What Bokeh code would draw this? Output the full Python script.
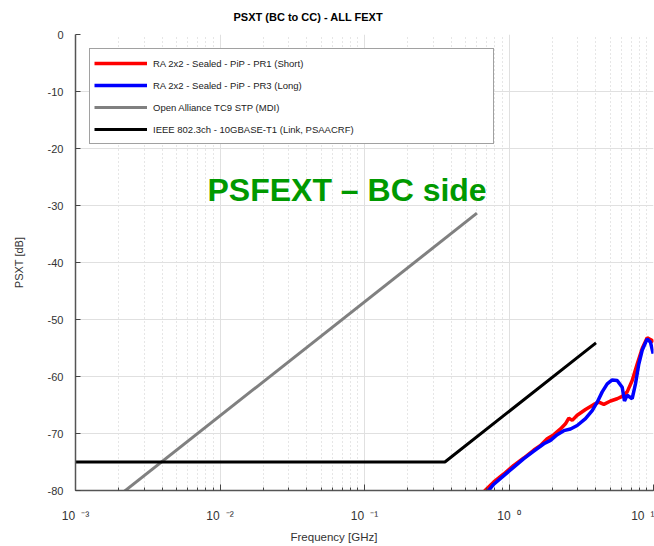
from bokeh.plotting import figure
from bokeh.models import (Range1d, Legend, LegendItem, Label, Title,
                          CustomJSTickFormatter)
from bokeh.embed import file_html
from bokeh.resources import INLINE

FONT = "Liberation Sans"

# ---- data -------------------------------------------------------------
short_f = [0.677, 0.785, 0.92, 1.079, 1.266, 1.485, 1.652, 1.837, 2.043, 2.272,
           2.459, 2.594, 2.737, 2.964, 3.383, 3.864, 4.186, 4.531, 5.04, 5.606,
           6.072, 6.575, 7.121, 7.711, 8.35, 9.043, 9.793, 10.0]
short_db = [-80.1, -78.5, -77.1, -75.6, -74.3, -72.9, -72.1, -70.9, -70.2, -69.2,
            -68.3, -67.3, -67.7, -66.8, -65.8, -64.9, -64.5, -64.9, -64.3, -63.9,
            -63.5, -62.7, -60.7, -57.8, -55.1, -53.2, -53.7, -54.0]

long_f = [0.706, 0.785, 0.92, 1.079, 1.266, 1.485, 1.742, 1.937, 2.155, 2.395,
          2.665, 2.964, 3.383, 3.765, 4.077, 4.416, 4.783, 5.18, 5.606, 6.072,
          6.297, 6.575, 7.121, 7.503, 7.913, 8.35, 9.043, 9.531, 9.95]
long_db = [-80.3, -78.9, -77.4, -75.9, -74.4, -73.1, -71.8, -71.2, -70.2, -69.5,
           -69.2, -68.6, -67.4, -66.0, -64.5, -62.7, -61.3, -60.6, -60.7, -61.9,
           -64.3, -63.3, -63.9, -61.3, -57.8, -55.4, -53.4, -54.0, -56.0]

tc9_f = [0.001, 0.6]
tc9_db = [-86.9, -31.35]

ieee_f = [0.001, 0.36, 4.0]
ieee_db = [-75.0, -75.0, -54.1]

series_labels = ["RA 2x2 - Sealed - PiP - PR1 (Short)",
                 "RA 2x2 - Sealed - PiP - PR3 (Long)",
                 "Open Alliance TC9 STP (MDI)",
                 "IEEE 802.3ch - 10GBASE-T1 (Link, PSAACRF)"]

y_ticks = [-80, -70, -60, -50, -40, -30, -20, -10, 0]

# ---- figure -----------------------------------------------------------
p = figure(x_axis_type="log", x_range=Range1d(1e-3, 10), y_range=Range1d(-80, 0),
           width=654, height=546,
           min_border_left=75, min_border_right=1, min_border_top=34, min_border_bottom=56,
           output_backend="svg", toolbar_location=None)
p.outline_line_color = None
p.background_fill_color = "white"

p.title.text = "PSXT (BC to CC) - ALL FEXT"
p.title.align = "left"
p.title.offset = 158
p.title.vertical_align = "top"
p.title.standoff = 19
p.title.text_font = FONT
p.title.text_font_size = "11px"
p.title.text_font_style = "bold"
p.title.text_color = "#000000"

# grids
p.xgrid.grid_line_color = "#e0e0e0"
p.xgrid.minor_grid_line_color = "#cccccc"
p.xgrid.minor_grid_line_dash = "1 3"
p.ygrid.grid_line_color = "#e0e0e0"
p.ygrid.ticker = y_ticks

# y axis
p.yaxis.ticker = y_ticks
p.yaxis.formatter = CustomJSTickFormatter(code="return tick.toFixed(0)")
p.yaxis.major_tick_in = 5
p.yaxis.major_tick_out = 0
p.yaxis.minor_tick_line_color = None
p.yaxis.major_label_standoff = 12
p.yaxis.major_label_text_font = FONT
p.yaxis.major_label_text_font_size = "11px"
p.yaxis.major_label_text_color = "#333333"
p.yaxis.axis_label = "PSXT [dB]"
p.yaxis.axis_label_text_font = FONT
p.yaxis.axis_label_text_font_size = "11px"
p.yaxis.axis_label_text_font_style = "normal"
p.yaxis.axis_label_text_color = "#333333"
p.yaxis.axis_label_standoff = 20

# x axis: 10 with superscript exponent
p.xaxis.major_tick_in = 6
p.xaxis.major_tick_out = 0
p.xaxis.minor_tick_in = 3
p.xaxis.minor_tick_out = 0
p.xaxis.major_label_standoff = 18
p.xaxis.major_label_text_font = FONT
p.xaxis.major_label_text_font_size = "12px"
p.xaxis.major_label_text_color = "#333333"
p.xaxis.formatter = CustomJSTickFormatter(code="""
const e = Math.round(Math.log10(tick));
const m = {'-': '\u207b', '0': '\u2070', '1': '\u00b9', '2': '\u00b2', '3': '\u00b3',
           '4': '\u2074', '5': '\u2075', '6': '\u2076', '7': '\u2077', '8': '\u2078', '9': '\u2079'};
return '10\u2002' + String(e).split('').map(c => m[c]).join('');
""")

for ax in (p.xaxis[0], p.yaxis[0]):
    ax.axis_line_color = "#555555"
    ax.axis_line_width = 1.5
    ax.major_tick_line_color = "#444444"
p.xaxis.minor_tick_line_color = "#444444"

p.add_layout(Title(text="Frequency [GHz]", align="left", offset=215, standoff=6,
                   text_font=FONT, text_font_size="11.5px", text_font_style="normal",
                   text_color="#333333"), "below")

# lines
r_short = p.line(short_f, short_db, line_color="#ff0000", line_width=3.5)
r_long = p.line(long_f, long_db, line_color="#0000ff", line_width=3.5)
r_tc9 = p.line(tc9_f, tc9_db, line_color="#808080", line_width=3)
r_ieee = p.line(ieee_f, ieee_db, line_color="#000000", line_width=3)

legend = Legend(items=[LegendItem(label=series_labels[0], renderers=[r_short]),
                       LegendItem(label=series_labels[1], renderers=[r_long]),
                       LegendItem(label=series_labels[2], renderers=[r_tc9]),
                       LegendItem(label=series_labels[3], renderers=[r_ieee])],
                location=(14, 346), padding=4, spacing=2, margin=0,
                label_height=20, glyph_height=20, glyph_width=53,
                label_standoff=6, label_width=336,
                label_text_font=FONT, label_text_font_size="9.5px",
                label_text_color="#222222",
                border_line_color="#444444", border_line_width=1,
                background_fill_color="white", background_fill_alpha=1)
p.add_layout(legend)

p.add_layout(Label(x=0.00819, y=-27.3, text="PSFEXT \u2013 BC side",
                   text_align="left", text_baseline="middle", text_font=FONT,
                   text_font_size="32px", text_font_style="bold", text_color="#009900"))

open("out.html", "w").write(file_html(p, INLINE))
